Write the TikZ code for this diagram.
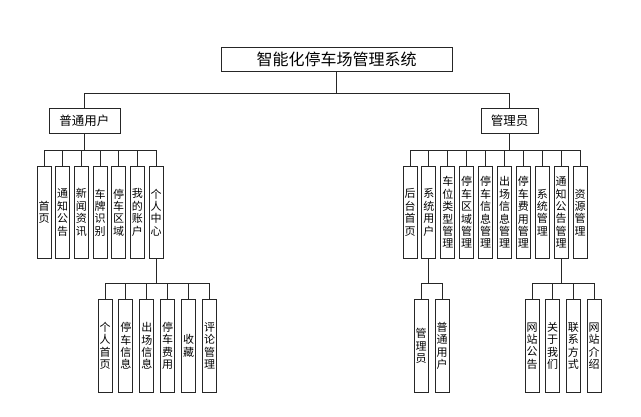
\documentclass[tikz,border=0pt]{standalone}
\usepackage{fontspec}
\newfontfamily\cjk{Noto Sans CJK SC}
\usetikzlibrary{calc}

\tikzset{
  box/.style={draw=black!85,line width=0.9pt,inner sep=0pt,align=center},
  rootbox/.style={box,minimum width=231pt,minimum height=24pt,font={\cjk\fontsize{16pt}{18pt}\selectfont}},
  groupbox/.style={box,minimum height=25pt,font={\cjk\fontsize{12.5pt}{14pt}\selectfont}},
  leaf/.style={box,anchor=north,minimum width=14pt,minimum height=92pt,font={\cjk\fontsize{11pt}{12.4pt}\selectfont}},
  link/.style={draw=black!85,line width=0.9pt}
}

\begin{document}
\begin{tikzpicture}[x=1pt,y=-1pt]
\useasboundingbox (0,0) rectangle (641,416);

\node[rootbox] (root) at (336.5,59) {智能化停车场管理系统};
\node[groupbox,minimum width=71pt] (user) at (84.5,120.5) {普通用户};
\node[groupbox,minimum width=57pt] (admin) at (509.5,120.5) {管理员};

\coordinate (rootBus) at ($(root.south)+(0,22)$);
\draw[link] (root.south) -- (rootBus) -| (user.north);
\draw[link] (rootBus) -| (admin.north);

% user menu
\foreach \txt [count=\i] in {首\\页,通\\知\\公\\告,新\\闻\\资\\讯,车\\牌\\识\\别,停\\车\\区\\域,我\\的\\账\\户,个\\人\\中\\心}
  \node[leaf] (u\i) at ({44+18.67*(\i-1)},166) {\txt};
\coordinate (userBus) at ($(user.south)+(0,17)$);
\foreach \i in {1,...,7}
  \draw[link] (user.south) -- (userBus) -| (u\i.north);

% personal centre
\foreach \txt [count=\i] in {个\\人\\首\\页,停\\车\\信\\息,出\\场\\信\\息,停\\车\\费\\用,收\\藏,评\\论\\管\\理}
  \node[leaf,minimum height=93pt] (p\i) at ({105+20.9*(\i-1)},299) {\txt};
\coordinate (centreBus) at ($(u7.south)+(0,25)$);
\foreach \i in {1,...,6}
  \draw[link] (u7.south) -- (centreBus) -| (p\i.north);

% admin menu
\foreach \txt [count=\i] in {后\\台\\首\\页,系\\统\\用\\户,车\\位\\类\\型\\管\\理,停\\车\\区\\域\\管\\理,停\\车\\信\\息\\管\\理,出\\场\\信\\息\\管\\理,停\\车\\费\\用\\管\\理,系\\统\\管\\理,通\\知\\公\\告\\管\\理,资\\源\\管\\理}
  \node[leaf] (a\i) at ({410+18.9*(\i-1)},166) {\txt};
\coordinate (adminBus) at ($(admin.south)+(0,17)$);
\foreach \i in {1,...,10}
  \draw[link] (admin.south) -- (adminBus) -| (a\i.north);

% system users
\foreach \txt [count=\i] in {管\\理\\员,普\\通\\用\\户}
  \node[leaf,minimum height=93pt] (s\i) at ({421+21*(\i-1)},299) {\txt};
\coordinate (sysBus) at ($(a2.south)+(0,25)$);
\foreach \i in {1,2}
  \draw[link] (a2.south) -- (sysBus) -| (s\i.north);

% notices
\foreach \txt [count=\i] in {网\\站\\公\\告,关\\于\\我\\们,联\\系\\方\\式,网\\站\\介\\绍}
  \node[leaf,minimum height=93pt] (n\i) at ({532+20.7*(\i-1)},299) {\txt};
\coordinate (noticeBus) at ($(a9.south)+(0,25)$);
\foreach \i in {1,...,4}
  \draw[link] (a9.south) -- (noticeBus) -| (n\i.north);

\end{tikzpicture}
\end{document}
